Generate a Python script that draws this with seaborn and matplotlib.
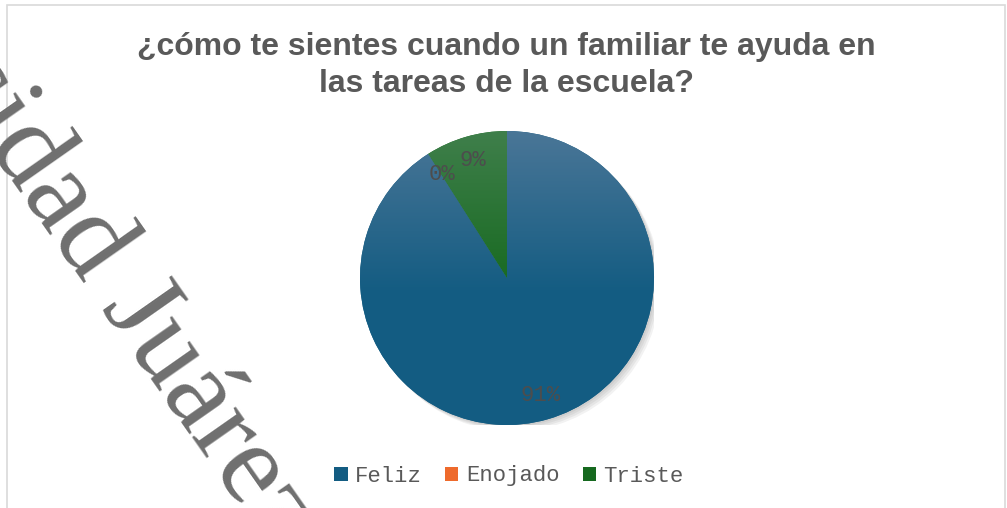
import numpy as np
import matplotlib
matplotlib.use('Agg')
import matplotlib.pyplot as plt
from matplotlib.patches import Patch, Rectangle, Circle
import seaborn as sns

sns.set_style('white')
plt.rcParams['font.family'] = ['Liberation Sans', 'DejaVu Sans']

# data
categorias = ['Feliz', 'Enojado', 'Triste']
porcentajes = [91, 0, 9]
colores = ['#135c82', '#ee6a2c', '#16691f']
colores_top = ['#4a7697', '#f2895a', '#3f7f4b']
titulo = ['¿cómo te sientes cuando un familiar te ayuda en',
          'las tareas de la escuela?']
marca = 'Universidad Juárez del Estado de Durango'

W, H = 1007, 508
fig = plt.figure(figsize=(W / 100, H / 100), dpi=100)

# chart border
fig.patches.append(Rectangle((7 / W, -0.05), (1005 - 7) / W, 1.05 - 5 / H,
                             transform=fig.transFigure, fill=False,
                             edgecolor='#d9d9d9', linewidth=1.2))

# pie axes (center 507,278 radius 147 px)
cx, cy, r = 507, 278, 147
ax = fig.add_axes([(cx - r) / W, (H - cy - r) / H, 2 * r / W, 2 * r / H])

# soft shadow
for k in range(4):
    off = 0.011 * (k + 1)
    ax.add_patch(Circle((off, -off), 1.0, color='black', alpha=0.05, lw=0, zorder=0))

wedges, texts, autotexts = ax.pie(
    porcentajes, colors=colores, startangle=90, counterclock=False,
    autopct='%1.0f%%', pctdistance=0.83,
    wedgeprops={'linewidth': 0, 'zorder': 1},
    textprops={'family': 'Liberation Mono', 'fontsize': 16, 'color': '#4d4d4d'})

# vertical gradient inside every wedge
yy = np.linspace(1, -1, 300)[:, None] * np.ones((1, 2))
for w, c_top, c_bot in zip(wedges, colores_top, colores):
    t = np.clip((1 - yy) / 1.1, 0, 1)
    top = np.array(matplotlib.colors.to_rgb(c_top))
    bot = np.array(matplotlib.colors.to_rgb(c_bot))
    img = top[None, None, :] * (1 - t[..., None]) + bot[None, None, :] * t[..., None]
    im = ax.imshow(img, extent=[-1, 1, -1, 1], origin='upper', aspect='auto',
                   interpolation='nearest', zorder=2)
    im.set_clip_path(w)

for t in autotexts:
    t.set_zorder(5)

ax.set_xlim(-1.0, 1.0)
ax.set_ylim(-1.0, 1.0)
ax.axis('off')

# title
for linea, yb in zip(titulo, [55, 92]):
    fig.text(506.5 / W, 1 - yb / H, linea, ha='center', va='baseline',
             fontsize=23, fontweight='bold', color='#595959')

# legend
handles = [Patch(facecolor=c, edgecolor='none') for c in colores]
fig.legend(handles, categorias, loc='center', bbox_to_anchor=(509 / W, 1 - 476 / H),
           ncol=3, frameon=False, handlelength=0.6, handleheight=0.6,
           handletextpad=0.33, columnspacing=1.05,
           prop={'family': 'Liberation Mono', 'size': 16}, labelcolor='#595959')

# watermark
ang = 55
jx, jy = 100, 308
ancho_prev = 5.138 * 116.7
ux, uy = np.cos(np.radians(ang)), np.sin(np.radians(ang))
sx, sy = jx - ancho_prev * ux, jy - ancho_prev * uy
fig.text(sx / W, 1 - sy / H, marca, rotation=-ang, rotation_mode='anchor',
         ha='left', va='baseline', family='Liberation Serif', fontsize=84,
         color='#6f6f6f', zorder=10)

fig.savefig('out.png', dpi=100)
